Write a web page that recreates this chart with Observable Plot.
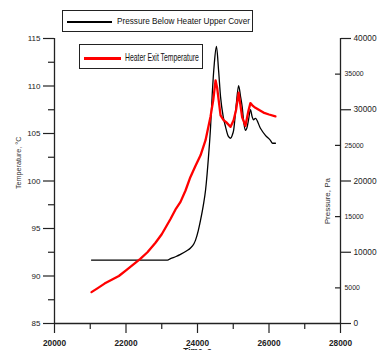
<!DOCTYPE html>
<html><head><meta charset="utf-8">
<script src="https://cdn.jsdelivr.net/npm/d3@7"></script>
<script src="https://cdn.jsdelivr.net/npm/@observablehq/plot@0.6"></script>
<style>
body{margin:0;background:#fff;font-family:"Liberation Sans",Arial,sans-serif;}
#wrap{position:relative;width:377px;height:350px;overflow:hidden;}
.leg{position:absolute;border:1.3px solid #222;background:#fff;box-sizing:border-box;}
.leg .ln{position:absolute;}
.leg .tx{position:absolute;white-space:nowrap;transform-origin:0 50%;color:#111;}
</style></head>
<body><div id="wrap"></div>
<script>
// Heater exit temperature (°C) vs time
const tempTime = [21035,21200,21400,21600,21800,22000,22200,22400,22600,22825,23000,23245,23400,23525,23665,23800,23945,24085,24225,24365,24440,24505,24550,24645,24730,24800,24925,25010,25080,25150,25250,25340,25425,25480,25550,25620,25845,26000,26180];
const tempVals = [88.3,88.7,89.2,89.6,90.0,90.6,91.2,91.8,92.5,93.5,94.4,96.0,97.1,97.8,99.0,100.4,101.6,102.7,104.3,106.8,108.5,110.6,109.8,106.9,106.4,106.2,105.7,106.4,107.5,109.3,106.7,105.8,107.4,108.2,107.9,107.7,107.2,107.0,106.8];
// Pressure below heater upper cover (Pa) vs time
const presTime = [21035,23160,23245,23400,23525,23700,23805,23900,23945,24020,24085,24160,24225,24315,24365,24410,24470,24530,24590,24645,24720,24785,24860,24925,24970,25010,25080,25150,25200,25250,25300,25340,25390,25425,25480,25530,25565,25620,25760,25900,26040,26100,26180];
const presVals = [8900,8900,9100,9400,9700,10200,10600,11200,11700,13000,14500,16500,18700,23900,27500,32000,36500,38900,35500,31800,29000,27600,26300,26000,26400,27100,30500,33400,32000,30400,28000,27100,27600,28500,30000,29000,28600,28800,27400,26400,25700,25300,25300];
const xTicks = [20000,21000,22000,23000,24000,25000,26000,27000,28000];
const xLabels = [20000,22000,24000,26000,28000];
const tempMajor = [85,90,95,100,105,110,115];
const tempMinor = [87.5,92.5,97.5,102.5,107.5,112.5];
const presMajor = [0,10000,20000,30000,40000];
const presMinor = [5000,15000,25000,35000];
const legendLabels = ["Pressure Below Heater Upper Cover","Heater Exit Temperature"];
const seriesColors = ["#000000","#ff0000"];

const tDom = [85,115], pDom = [0,40000];
const p2t = p => tDom[0] + (p - pDom[0]) * (tDom[1]-tDom[0]) / (pDom[1]-pDom[0]);
const t2p = t => Math.round(pDom[0] + (t - tDom[0]) * (pDom[1]-pDom[0]) / (tDom[1]-tDom[0]));

const temp = tempTime.map((t,i)=>({t, v: tempVals[i]}));
const pres = presTime.map((t,i)=>({t, v: p2t(presVals[i])}));
const xMinor = xTicks.filter(d => !xLabels.includes(d));

const plot = Plot.plot({
  width: 377, height: 350,
  marginLeft: 54, marginRight: 37, marginTop: 38, marginBottom: 27,
  style: {fontFamily: '"Liberation Sans", Arial, sans-serif', fontSize: "8px", color: "#222", background: "#fff"},
  x: {domain: [20000, 28000]},
  y: {domain: tDom},
  marks: [
    Plot.ruleX([20000], {stroke: "#222", strokeWidth: 1.3}),
    Plot.ruleX([28000], {stroke: "#222", strokeWidth: 1.3}),
    Plot.ruleY([85], {stroke: "#222", strokeWidth: 1.3}),
    // left axis
    Plot.axisY({ticks: tempMajor, tickSize: 11, tickPadding: 3, label: null, fontSize: 8, strokeWidth: 1.2}),
    Plot.axisY({ticks: tempMinor, tickSize: 6, tickFormat: () => "", label: null, strokeWidth: 1.2}),
    // right axis (pressure)
    Plot.axisY({anchor: "right", ticks: presMajor.map(p2t), tickFormat: d => String(t2p(d)), tickSize: 10, tickPadding: 3, label: null, fontSize: 8.3, strokeWidth: 1.2}),
    Plot.axisY({anchor: "right", ticks: presMinor.map(p2t), tickFormat: () => "", tickSize: -6, label: null, strokeWidth: 1.2}),
    Plot.axisY({anchor: "right", ticks: presMinor.map(p2t), tickFormat: d => String(t2p(d)), tickSize: 0, tickPadding: 4, label: null, fontSize: 6.9}),
    // x axis
    Plot.axisX({ticks: xLabels, tickSize: 10, tickFormat: () => "", label: null, strokeWidth: 1.2}),
    Plot.axisX({ticks: xMinor, tickSize: 6, tickFormat: () => "", label: null, strokeWidth: 1.2}),
    Plot.axisX({ticks: xLabels, tickSize: 0, tickPadding: 17, label: null, fontWeight: "bold", fontSize: 8.3, tickFormat: d => String(d)}),
    // axis titles
    Plot.text(["Temperature, °C"], {frameAnchor: "left", dx: -36, dy: 8, rotate: -90, fontSize: 7.2, fill: "#333"}),
    Plot.text(["Pressure, Pa"], {frameAnchor: "right", dx: -13, dy: -3, rotate: -90, fontSize: 8, fill: "#333"}),
    Plot.text(["Time, s"], {frameAnchor: "bottom", dy: 25, lineAnchor: "top", fontSize: 8.3, fontWeight: "bold", fill: "#222"}),
    // series
    Plot.line(pres, {x: "t", y: "v", stroke: seriesColors[0], strokeWidth: 1.3, curve: "monotone-x"}),
    Plot.line(temp, {x: "t", y: "v", stroke: seriesColors[1], strokeWidth: 2.3})
  ]
});
const wrap = document.getElementById("wrap");
wrap.appendChild(plot);

// legends
const cv = document.createElement("canvas").getContext("2d");
function legend(box, lineSpec, label, color, fontPx, textX, textW) {
  const d = document.createElement("div");
  d.className = "leg";
  Object.assign(d.style, {left: box[0]+"px", top: box[1]+"px", width: box[2]+"px", height: box[3]+"px"});
  const l = document.createElement("div");
  l.className = "ln";
  Object.assign(l.style, {left: lineSpec[0]+"px", top: lineSpec[1]+"px", width: lineSpec[2]+"px", height: lineSpec[3]+"px", background: color});
  d.appendChild(l);
  const t = document.createElement("div");
  t.className = "tx";
  t.textContent = label;
  cv.font = fontPx + 'px "Liberation Sans", Arial, sans-serif';
  const w = cv.measureText(label).width;
  Object.assign(t.style, {left: textX+"px", top: "50%", fontSize: fontPx+"px", lineHeight: "1", transform: `translateY(-50%) scaleX(${textW / w})`});
  d.appendChild(t);
  wrap.appendChild(d);
}
legend([62,10,191,22], [4,10,45,2], legendLabels[0], seriesColors[0], 9, 54, 133);
legend([79,44,124,25], [4,12,37,2.5], legendLabels[1], seriesColors[1], 10.5, 45, 74);
</script>
</body></html>
